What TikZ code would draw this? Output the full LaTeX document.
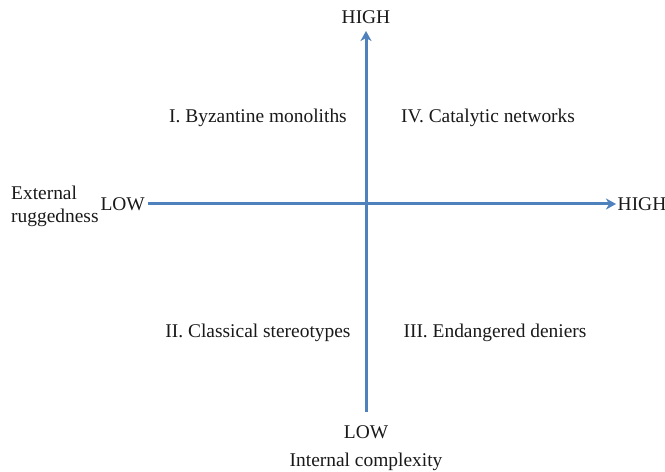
\documentclass[tikz,border=0pt]{standalone}
\usepackage{fontspec}
\setmainfont{Liberation Serif}
\usetikzlibrary{arrows.meta}
\definecolor{axisblue}{RGB}{79,129,189}
\begin{document}
\begin{tikzpicture}[x=1bp,y=-1bp,
  axis/.style={draw=axisblue,line width=3bp,-{Stealth[length=10bp,width=11bp,inset=3bp]}},
  lbl/.style={font=\fontsize{19.5}{23}\selectfont,inner sep=0pt,text=black!90}]
\useasboundingbox (0,0) rectangle (665,472);
% axis end points
\coordinate (xs) at (148,204);
\coordinate (xe) at (616,204);
\coordinate (ys) at (366,412);
\coordinate (ye) at (366,31);
\draw[axis] (xs) -- (xe);
\draw[axis] (ys) -- (ye);
% axis labels
\node[lbl] (ytop) at (366,17) {HIGH};
\node[lbl] (ybot) at (366,432) {LOW};
\node[lbl] (ytitle) at (366,462) {Internal complexity};
\node[lbl] (xright) at (642,204) {HIGH};
\node[lbl,anchor=east] (xleft) at (145,204) {LOW};
\node[lbl,align=left,anchor=west,font=\fontsize{19.5}{23}\selectfont] (xtitle) at (11,206) {External\\ruggedness};
% quadrants
\node[lbl] (q1) at (258,118) {I. Byzantine monoliths};
\node[lbl] (q4) at (488,118) {IV. Catalytic networks};
\node[lbl] (q2) at (258,333) {II. Classical stereotypes};
\node[lbl] (q3) at (495,333) {III. Endangered deniers};
\end{tikzpicture}
\end{document}
